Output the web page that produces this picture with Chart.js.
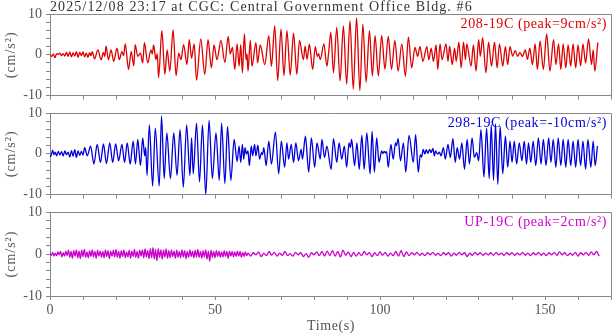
<!DOCTYPE html>
<html><head><meta charset="utf-8">
<script src="https://cdn.jsdelivr.net/npm/chart.js@4.4.1/dist/chart.umd.min.js"></script>
<style>
html,body{margin:0;padding:0;background:#fff;}
#wrap{position:relative;width:613px;height:334px;overflow:hidden;background:#fff;}
canvas{position:absolute;left:0;}
</style></head><body>
<div id="wrap">
<canvas id="c1" width="613" height="108" style="top:0;width:613px;height:108px"></canvas>
<canvas id="c2" width="613" height="108" style="top:99px;width:613px;height:108px"></canvas>
<canvas id="c3" width="613" height="137" style="top:197px;width:613px;height:137px"></canvas>
</div>
<script>
// ---- texts ----
const chartTitle = '2025/12/08 23:17 at CGC: Central Government Office Bldg. #6';
const yAxisTitle = '(cm/s²)';
const xAxisTitle = 'Time(s)';
const seriesLabels = ['208-19C (peak=9cm/s²)', '298-19C (peak=-10cm/s²)', 'UP-19C (peak=2cm/s²)'];
const xTickLabels = [0, 50, 100, 150];
const yTickLabels = [10, 0, -10];

// ---- channel 208-19C ----
const ch208Times = [0,0.5,1,1.5,2,2.5,3,3.5,4,4.5,5,5.5,6,6.5,7,7.5,8,8.5,9,9.5,10,10.5,11,11.5,12,12.4,12.8,13.5,14.5,15.5,16.2,16.6,17.0,17.7,18.5,19.3,20.3,21.0,21.8,22.3,22.8,23.8,24.6,25.4,25.8,26.6,27.4,28.1,28.6,29.6,30.6,31.0,31.4,32.1,32.5,32.9,33.9,34.8,35.5,36.3,37.3,38.2,39.0,39.7,40.5,41.5,42.2,42.9,43.7,44.4,45.7,46.9,47.9,48.9,49.7,50.6,51.8,53.0,54.0,54.6,55.3,56.0,56.7,57.3,57.8,58.3,58.9,59.4,59.7,60.0,60.7,61.2,62.4,62.9,63.7,65.1,66.3,67.1,68.1,69.0,70.0,70.9,71.8,72.8,73.8,74.8,75.6,76.8,77.3,77.9,78.6,79.6,80.4,81.0,81.4,81.9,83.0,83.9,84.4,85.1,85.9,86.9,87.9,88.9,89.9,90.9,91.9,92.9,93.9,94.8,95.8,96.8,97.7,98.5,99.5,100.5,101.5,102.5,103.5,104.5,105.5,106.6,107.7,108.6,109.6,110.6,111.4,112.1,113.0,114.2,114.8,115.5,116.2,117.0,117.5,118.2,118.8,120.0,120.6,121.1,121.9,122.6,123.1,123.9,124.6,125.3,125.9,126.3,127.6,128.3,129.1,129.9,130.4,131.1,132.1,132.9,133.8,134.7,135.5,136.2,137.2,138.0,138.7,139.4,140.2,141.0,141.7,142.4,143.2,144.0,144.7,145.4,146.2,147.0,147.7,148.5,149.5,150.5,151.5,152.6,153.3,154.1,154.8,155.5,156.3,157.0,157.8,158.5,159.3,160.0,160.8,161.5,162.3,163.2,164.1,164.6,165.1,166.0];
const ch208Values = [0,-0.4,0.2,-0.7,0.3,0.1,0.4,-0.2,0.3,-0.3,0.6,-0.4,0.7,-0.5,0.5,-0.3,0.8,-0.6,0.6,-0.2,0.7,-0.5,0.4,-0.6,0.5,-0.2,0.8,-1.0,1.2,-1.2,0.6,-0.4,2.1,-1.2,1.2,-1.6,1.6,-1.2,0.8,-0.2,2.7,-3.6,0.8,-2.7,2.5,-0.4,0.4,-2.0,3.0,-2.0,1.2,0.2,2.4,-1.2,0.3,-5.6,5.9,-4.8,1.2,-4.0,6.1,-5.1,0.4,-1.2,2.5,-2.4,3.7,-0.8,2.7,-6.2,3.9,-4.8,3.7,-3.2,2.4,-1.2,3.5,-1.9,4.5,0.2,1.8,-3.6,2.7,-2.8,2.5,-4.4,5.1,-1.2,0.2,-4.0,3.5,-2.8,3.0,-2.0,2.4,-2.4,4.7,-2.8,7.1,-6.3,6.3,-5.1,5.9,-5.0,5.3,-4.8,3.5,-1.2,2.1,-1.1,2.6,-3.6,2.0,-0.4,0.3,-1.2,2.7,-2.8,0.2,5.5,-4.4,6.7,-6.4,7.1,-7.2,8.3,-8.4,9.1,-8.8,7.5,-6.7,5.9,-5.2,4.7,-5.2,4.7,-3.5,4.5,-3.6,3.5,-4.0,2.7,-5.2,4.3,-3.2,1.8,-0.4,2.0,-1.6,2.0,-1.2,1.6,-1.6,2.4,-3.6,2.7,-1.2,2.7,-1.6,2.1,-2.4,1.6,-1.6,3.1,-3.2,3.1,-1.2,2.7,-2.8,2.4,-4.0,3.7,-0.4,4.2,-4.4,3.1,-2.8,3.1,-3.2,2.7,-2.8,2.0,-2.4,2.0,-0.3,1.0,-0.4,0.5,-0.4,1.2,-1.1,1.6,-2.4,2.7,-3.6,3.4,-3.6,5.1,-4.0,3.7,-2.4,2.7,-3.6,2.7,-3.2,2.4,-2.8,2.7,-3.2,2.4,-2.7,2.7,-2.0,3.9,-2.4,1.2,-4.0,3.0];

// ---- channel 298-19C ----
const ch298Times = [0,0.4,0.8,1.2,1.6,2.0,2.5,3.0,3.5,4.0,4.5,5.0,5.5,6.0,6.5,7.0,7.5,8.0,8.5,9.0,9.5,10.0,10.5,11.3,12.3,13.3,14.3,15.3,16.2,17.1,18.1,19.0,19.9,20.8,21.8,22.6,23.4,24.3,25.2,25.9,26.6,27.4,28.1,28.7,29.0,29.4,30.1,31.1,31.9,33.1,33.8,34.6,35.4,36.5,37.5,38.5,39.4,40.4,41.4,42.4,42.9,43.4,44.4,45.3,46.2,47.2,48.2,49.2,50.3,51.3,52.0,53.0,53.8,54.8,55.8,56.7,57.3,57.8,58.3,58.7,59.1,59.5,60.0,60.4,61.0,61.4,62.0,62.4,63.0,63.5,64.1,64.4,64.8,65.5,66.3,67.1,68.3,69.3,70.1,71.1,71.8,72.3,73.1,73.8,74.5,75.3,76.1,76.5,77.4,78.4,79.2,80.2,80.9,81.9,82.4,83.2,83.9,85.2,85.9,86.9,87.6,88.4,89.2,89.9,90.6,91.0,91.4,92.3,93.0,93.7,94.5,95.2,96.0,97.0,97.6,98.3,99.0,99.7,100.5,100.9,101.3,101.7,102.0,102.5,103.3,104.0,104.7,105.0,105.5,106.2,107.1,107.8,108.8,110.1,110.8,111.6,112.2,112.6,113.1,113.6,114.0,114.5,115.0,115.5,116.0,116.5,116.8,117.5,118.0,118.5,119.2,119.8,120.6,121.3,122.1,122.8,123.4,124.1,124.8,125.6,126.4,127.1,127.9,128.6,129.3,129.9,130.6,131.5,132.3,133.1,133.7,134.4,135.0,135.7,136.4,137.2,138.0,138.7,139.4,140.0,140.7,141.4,142.2,143.0,143.7,144.4,145.0,145.7,146.4,147.2,148.0,148.8,149.5,150.3,151.1,151.8,152.5,153.3,154.0,154.8,155.5,156.3,157.0,157.8,158.5,159.3,160.0,160.8,161.5,162.3,163.0,163.9,164.6,165.2,165.9];
const ch298Values = [-0.8,-0.3,0.9,-0.2,0.4,-0.5,0.6,-0.3,0.5,-0.5,0.7,-0.2,0.4,-0.8,0.8,-0.6,1.0,-0.9,0.7,-0.4,0.6,-0.3,1.5,-0.5,1.9,-2.5,2.3,-2.1,2.4,-2.4,2.7,-2.1,2.4,-1.7,2.3,-2.1,2.7,-2.5,3.1,-2.5,3.5,-2.9,3.9,-0.5,1.5,-5.3,7.1,-7.9,6.3,-7.9,9.3,-6.1,5.1,-6.1,5.1,-5.3,5.9,-8.2,7.1,-5.3,3.9,-4.9,7.5,-6.9,7.1,-10.0,8.2,-6.1,5.1,-6.5,7.5,-7.3,6.7,-6.5,3.5,-1.9,1.9,-2.1,2.3,-1.3,1.5,-0.1,0.7,-2.9,1.9,-0.5,2.3,-0.5,2.1,-1.3,0.3,-0.2,1.5,-2.9,3.1,-2.5,5.3,-4.9,3.1,-3.3,2.7,-1.3,2.3,-2.1,2.7,-1.7,1.1,-1.3,4.3,-4.5,3.9,-3.3,2.7,-1.3,3.5,-0.9,1.9,-3.8,3.7,-2.1,2.7,-1.3,1.9,-3.3,2.7,1.5,3.5,-2.9,2.7,-3.8,4.5,-3.8,5.1,-4.9,5.5,-4.5,3.9,-2.1,0.7,0.1,0.6,0.2,0.5,-3.3,2.3,-1.3,2.7,2.0,3.7,-1.7,2.7,-4.5,4.5,-2.1,4.7,-4.5,-0.3,-0.8,1.1,-0.1,1.0,0.1,1.1,0.3,1.3,-0.5,0.7,-0.1,0.4,-0.5,1.5,-1.3,2.3,-0.9,3.7,-2.1,1.5,-1.3,2.7,-3.8,3.5,-2.5,3.9,-0.9,0.3,-1.7,5.9,-5.7,6.3,-6.1,7.1,-6.5,7.3,-7.5,6.7,-4.9,4.3,-3.3,3.1,-2.1,3.1,-2.5,2.7,-1.7,3.1,-2.5,2.7,-2.1,3.1,-2.9,3.9,-2.5,3.5,-2.9,3.9,-2.1,3.5,-3.3,3.9,-2.9,3.5,-3.3,3.5,-2.9,3.1,-3.3,3.5,-2.9,3.1,-3.8,3.5,-3.3,3.1,-2.9,1.9];

// ---- channel UP-19C (two sampled segments) ----
const upStartA = 0, upStepA = 0.4;
const upValuesA = [0.1,-0.3,0.4,-0.5,0.2,-0.4,0.5,-0.2,0.6,-0.7,
0.3,-0.5,0.7,-0.4,0.9,-0.8,0.6,-1.0,0.8,-0.5,
1.0,-0.9,0.7,-1.1,0.9,-0.6,1.1,-0.8,0.5,-0.9,
0.8,-0.6,1.0,-0.7,0.6,-1.0,0.9,-0.5,0.7,-0.8,
0.6,-0.9,1.0,-0.6,0.8,-1.1,0.7,-0.5,0.9,-0.7,
1.1,-0.8,0.6,-1.0,0.8,-0.6,1.0,-0.9,0.5,-0.7,
0.9,-1.0,0.7,-0.6,1.1,-0.8,0.6,-1.0,0.9,-0.5,
1.0,-0.9,1.2,-0.7,0.8,-1.1,1.3,-0.9,1.5,-1.2,
1.1,-1.6,1.3,-0.8,1.0,-1.2,0.9,-0.7,1.2,-1.0,
0.8,-0.9,1.0,-0.6,0.7,-1.0,0.9,-0.8,0.6,-0.9,
1.0,-0.7,0.8,-1.1,0.6,-0.8,1.0,-0.6,0.7,-0.9,
0.9,-0.7,1.1,-0.8,0.6,-1.0,0.8,-0.7,1.0,-1.2,
0.7,-1.7,0.9,-0.8,0.6,-0.9,0.8,-0.6,0.7,-0.8,
0.5,-0.7,0.8,-0.6,0.6,-1.0,0.7,-0.5,0.6,-0.7,
0.5,-0.6,0.7,-0.5,0.6,-0.8,0.4,-0.6,0.5,-0.4,
0.2];
const upStartB = 60.8, upStepB = 0.8;
const upValuesB = [-0.5,0.3,-0.2,0.5,-0.6,0.2,-0.4,0.6,-0.3,0.4,
-0.5,0.2,-0.3,0.6,-0.4,0.1,-0.5,0.4,-0.2,0.3,
-0.6,0.1,-0.8,0.3,-0.2,0.5,-0.4,0.6,-0.5,0.7,
-0.4,0.8,-0.5,0.6,-0.7,0.9,-0.3,0.5,-0.6,0.4,
-0.5,0.3,-0.4,0.6,-0.2,0.4,-0.6,0.3,-0.4,0.5,
-0.3,0.4,-0.5,0.2,-0.4,0.6,-0.5,0.8,-0.6,0.5,
-0.4,0.3,-0.2,0.4,-0.3,0.2,-0.4,0.3,-0.2,0.4,
-0.3,0.2,-0.4,0.3,-0.2,0.3,-0.5,0.2,-0.3,0.4,
-0.2,0.3,-0.6,0.2,-0.3,0.4,-0.2,0.3,-0.3,0.2,
-0.2,0.3,-0.3,0.4,-0.2,0.2,-0.3,0.3,-0.2,0.3,
-0.3,0.2,-0.2,0.4,-0.3,0.2,-0.4,0.3,-0.2,0.4,
-0.3,0.2,-0.4,0.3,-0.2,0.4,-0.3,0.5,-0.2,0.3,
-0.4,0.2,-0.3,0.4,-0.5,0.3,-0.2,0.4,-0.3,0.5,
-0.2,0.6,-0.5];

const seriesColors = ['#dd0000', '#0000dd', '#cc00cc'];

// ---- build point tables ----
function pairs(times, values) { return values.map((v, i) => ({x: times[i], y: v})); }
function sampled(start, step, values) { return values.map((v, i) => ({x: +(start + i * step).toFixed(2), y: v})); }
const table208 = pairs(ch208Times, ch208Values);
const table298 = pairs(ch298Times, ch298Values);
const tableUP = sampled(upStartA, upStepA, upValuesA).concat(sampled(upStartB, upStepB, upValuesB));

const FONT = 'Liberation Serif';
const GRAY = '#555';
const AXIS = '#888';

function textPlugin(idx, opts) {
  return {
    id: 'txt' + idx,
    afterDraw(chart) {
      const ctx = chart.ctx, a = chart.chartArea;
      ctx.save();
      // frame top & right
      ctx.strokeStyle = AXIS; ctx.lineWidth = 1;
      ctx.beginPath();
      ctx.moveTo(a.left, a.top + 0.5); ctx.lineTo(a.right + 0.5, a.top + 0.5);
      ctx.lineTo(a.right + 0.5, a.bottom);
      ctx.stroke();
      // series label
      ctx.font = '14px "' + FONT + '"';
      ctx.letterSpacing = '0.6px';
      ctx.fillStyle = seriesColors[idx];
      ctx.textAlign = 'right'; ctx.textBaseline = 'middle';
      ctx.fillText(seriesLabels[idx], 607, a.top + 10);
      // y title
      ctx.fillStyle = GRAY;
      ctx.letterSpacing = '1px';
      ctx.translate(11, (a.top + a.bottom) / 2);
      ctx.rotate(-Math.PI / 2);
      ctx.textAlign = 'center';
      ctx.fillText(yAxisTitle, 0, 0);
      ctx.restore();
      ctx.save();
      if (opts.title) {
        ctx.font = '14px "' + FONT + '"';
        ctx.letterSpacing = '1.1px';
        ctx.fillStyle = '#333';
        ctx.textAlign = 'left'; ctx.textBaseline = 'middle';
        ctx.fillText(chartTitle, 50, 7);
      }
      if (opts.xTitle) {
        ctx.font = '14px "' + FONT + '"';
        ctx.letterSpacing = '0.6px';
        ctx.fillStyle = GRAY;
        ctx.textAlign = 'center'; ctx.textBaseline = 'middle';
        ctx.fillText(xAxisTitle, 331, 129);
      }
      ctx.restore();
    }
  };
}

function makeChart(id, idx, data, opts) {
  return new Chart(document.getElementById(id), {
    type: 'line',
    data: { datasets: [{ data: data, borderColor: seriesColors[idx], borderWidth: 1.3, pointRadius: 0, fill: false, tension: 0, cubicInterpolationMode: 'monotone' }] },
    options: {
      responsive: false, animation: false, devicePixelRatio: 1, parsing: false, normalized: true,
      layout: { padding: { top: opts.padTop, right: 2, left: 0, bottom: 0 } },
      plugins: { legend: { display: false }, tooltip: { enabled: false }, title: { display: false } },
      scales: {
        x: {
          type: 'linear', min: 0, max: 170,
          afterFit: s => { s.height = opts.xHeight; },
          ticks: { stepSize: 10, autoSkip: false, maxRotation: 0, padding: 2,
            color: GRAY, font: { family: FONT, size: 14 },
            callback: v => (opts.xLabels && xTickLabels.includes(v)) ? String(v) : '' },
          grid: { drawOnChartArea: false, drawTicks: true, tickLength: 4, color: AXIS, lineWidth: 1 },
          border: { color: AXIS, width: 1 }
        },
        y: {
          min: -10, max: 10,
          afterFit: s => { s.width = 50; },
          ticks: { stepSize: 2, autoSkip: false, padding: 4, color: GRAY, font: { family: FONT, size: 14 },
            callback: v => yTickLabels.includes(v) ? String(v) : '' },
          grid: { drawOnChartArea: false, drawTicks: true, tickLength: 4, color: AXIS, lineWidth: 1 },
          border: { color: AXIS, width: 1 }
        }
      }
    },
    plugins: [textPlugin(idx, opts)]
  });
}

makeChart('c1', 0, table208, { padTop: 14, xHeight: 10, title: true });
makeChart('c2', 1, table298, { padTop: 14, xHeight: 10 });
makeChart('c3', 2, tableUP, { padTop: 15, xHeight: 38, xLabels: true, xTitle: true });
</script>
</body></html>
